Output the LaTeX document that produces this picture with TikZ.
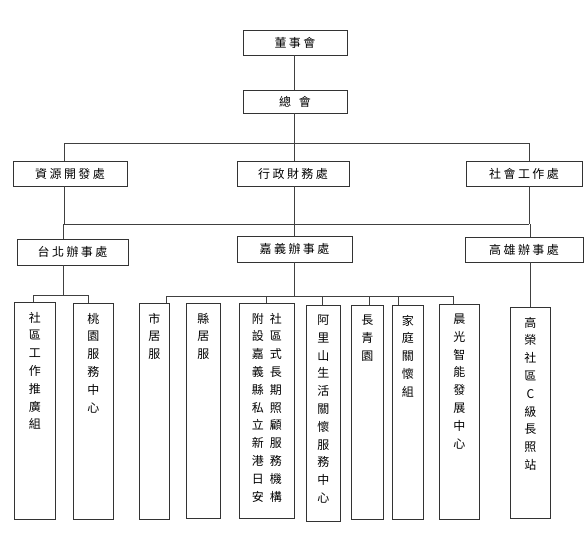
\documentclass[tikz,border=0pt]{standalone}
\usepackage{fontspec}
\newfontfamily\cjk{Noto Sans CJK TC}
\newfontfamily\cjkwide[LetterSpace=20]{Noto Sans CJK TC}
\newcommand\mycol[1]{\parbox[t]{13pt}{\centering #1}}
\newcommand\tgap{9.5pt}
\tikzset{
  conn/.style={draw=black!75, line width=0.8pt},
  widebox/.style={draw=black!80, line width=0.9pt, fill=white, inner sep=0pt,
    font=\cjkwide\fontsize{12}{14}\selectfont},
  tallbox/.style={draw=black!80, line width=0.9pt, fill=white, inner sep=0pt,
    anchor=north west, font=\cjk\fontsize{12}{17.8}\selectfont},
}
% name, x1, y1, x2, y2, text
\newcommand\wbox[6]{\node[widebox, minimum width={(#4-#2)*1pt}, minimum height={(#5-#3)*1pt}]
  (#1) at ({(#2+#4)/2},{(#3+#5)/2}) {#6};}
\newcommand\tbox[6]{\node[tallbox] (#1) at (#2,#3)
  {\parbox[c][\dimexpr#5pt-#3pt\relax][t]{\dimexpr#4pt-#2pt\relax}{\centering\vspace*{\tgap}#6\par}};}
\begin{document}
\begin{tikzpicture}[x=1pt,y=-1pt]
\fill[white] (0,0) rectangle (586,536);
\useasboundingbox (0,0) rectangle (586,536);
% top
\wbox{dsh}{243}{30}{347}{55}{董事會}
\wbox{zh}{243}{90}{347}{113}{總\hspace{8pt}會}
% row 1
\wbox{zy}{13}{161}{127}{186}{資源開發處}
\wbox{xz}{237}{161}{349}{186}{行政財務處}
\wbox{sh}{466}{161}{582}{186}{社會工作處}
% row 2
\wbox{tb}{17}{239}{128}{265}{台北辦事處}
\wbox{jy}{237}{236}{352}{262}{嘉義辦事處}
\wbox{kh}{465}{237}{583}{262}{高雄辦事處}
% tall boxes
\tbox{ba}{14}{302}{55}{519}{社\\區\\工\\作\\推\\廣\\組}
\tbox{bb}{73}{303}{113}{519}{桃\\園\\服\\務\\中\\心}
\tbox{bc}{139}{303}{169}{519}{市\\居\\服}
\tbox{bd}{186}{303}{220}{518}{縣\\居\\服}
\tbox{be}{239}{303}{294}{518}{\mycol{附\\設\\嘉\\義\\縣\\私\\立\\新\\港\\日\\安}\hspace{5pt}\mycol{社\\區\\式\\長\\期\\照\\顧\\服\\務\\機\\構}}
\tbox{bf}{306}{305}{340}{521}{阿\\里\\山\\生\\活\\關\\懷\\服\\務\\中\\心}
\tbox{bg}{351}{305}{383}{519}{長\\青\\園}
\tbox{bh}{392}{305}{423}{519}{家\\庭\\關\\懷\\組}
\tbox{bi}{439}{304}{479}{519}{晨\\光\\智\\能\\發\\展\\中\\心}
\tbox{bj}{510}{307}{550}{518}{高\\榮\\社\\區\\C\\級\\長\\照\\站}
% connector columns and levels
\coordinate (xL) at (64,0);
\coordinate (xT) at (63,0);
\coordinate (xM) at (294,0);
\coordinate (xR) at (529,0);
\coordinate (xK) at (530,0);
\coordinate (h1) at (0,143);
\coordinate (h2) at (0,224);
\coordinate (h3) at (0,295);
\coordinate (h4) at (0,296);
% spine
\draw[conn] (xM |- dsh.south) -- (xM |- zh.north);
\draw[conn] (xM |- zh.south) -- (xM |- xz.north);
\draw[conn] (xM |- xz.south) -- (xM |- jy.north);
\draw[conn] (xL |- zy.north) -- (xL |- h1) -- (xR |- h1) -- (xR |- sh.north);
\draw[conn] (xL |- zy.south) -- (xL |- h2);
\draw[conn] (xR |- sh.south) -- (xR |- h2);
\draw[conn] (xL |- h2) -- (xR |- h2);
\draw[conn] (xT |- h2) -- (xT |- tb.north);
\draw[conn] (xK |- h2) -- (xK |- kh.north);
% Taipei group
\coordinate (ta) at (33,295);
\coordinate (tb2) at (88,295);
\draw[conn] (xT |- tb.south) -- (xT |- h3);
\draw[conn] (ta |- ba.north) -- (ta) -- (tb2) -- (tb2 |- bb.north);
% Chiayi group
\coordinate (tc) at (166,296);
\coordinate (te) at (266,296);
\coordinate (tf) at (322,296);
\coordinate (tg) at (369,296);
\coordinate (th) at (398,296);
\coordinate (ti) at (453,296);
\draw[conn] (xM |- jy.south) -- (xM |- h4);
\draw[conn] (tc |- bc.north) -- (tc) -- (ti) -- (ti |- bi.north);
\draw[conn] (te) -- (te |- be.north);
\draw[conn] (tf) -- (tf |- bf.north);
\draw[conn] (tg) -- (tg |- bg.north);
\draw[conn] (th) -- (th |- bh.north);
% Kaohsiung group
\draw[conn] (xK |- kh.south) -- (xK |- bj.north);
\end{tikzpicture}
\end{document}
